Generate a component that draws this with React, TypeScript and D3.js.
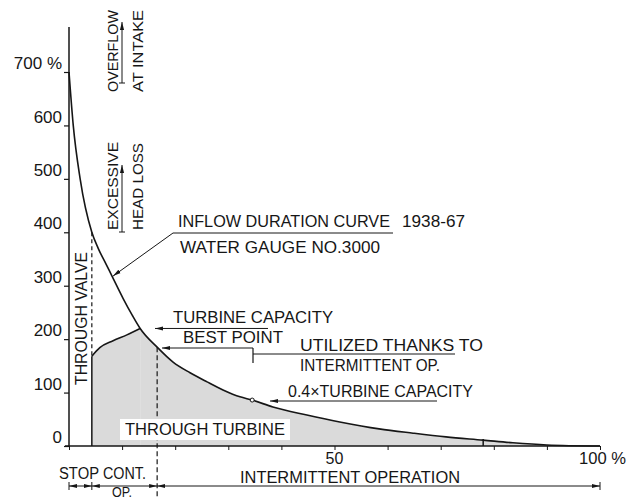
import { useEffect, useRef } from "react";
import * as d3 from "d3";

// inflow duration curve (percent of time exceeded -> percent of mean flow)
const durationPct = [0, 0.8, 2.1, 4.3, 5.5, 7, 8.1, 10.2, 11.9, 13.4, 16.6, 19.6, 22.8, 26, 29, 32.2, 34.5, 38.4, 44.8, 51, 58.4, 64.8, 71, 78, 83.6, 90, 100];
const inflowPct = [700, 600, 500, 400, 370, 340, 318, 276, 245, 220, 185, 157, 137, 120, 105, 92, 86, 73, 58, 45, 32, 24, 17, 11, 6, 2, 0];

// turbine capacity curve (continuous operation range)
const turbineDur = [4.3, 5.8, 8.3, 10.9, 13.4];
const turbineCap = [168, 184, 197, 208, 220];

const yTicks = [0, 100, 200, 300, 400, 500, 600, 700];
const xTicks = [0, 10, 20, 30, 40, 50, 60, 70, 80, 90, 100];

const valveLimit = 4.3; // stop / continuous op. boundary
const bestPoint = 16.6; // continuous / intermittent boundary
const lowPoint = 34.5; // 0.4 x turbine capacity
const markPoint = 78;

const INK = "#161616";
const FONT = "'Liberation Sans', Arial, sans-serif";

export default function App() {
  const ref = useRef<SVGSVGElement>(null);

  useEffect(() => {
    const svg = d3.select(ref.current);
    svg.selectAll("*").remove();

    const x = d3.scaleLinear().domain([0, 100]).range([69, 600]);
    const y = d3.scaleLinear().domain([0, 700]).range([446, 72]);

    const flow: [number, number][] = durationPct.map((d, i) => [d, inflowPct[i]]);
    const turb: [number, number][] = turbineDur.map((d, i) => [d, turbineCap[i]]);

    const defs = svg.append("defs");
    defs
      .append("marker")
      .attr("id", "arr")
      .attr("viewBox", "0 -4 10 8")
      .attr("refX", 10)
      .attr("refY", 0)
      .attr("markerWidth", 8)
      .attr("markerHeight", 8)
      .attr("markerUnits", "userSpaceOnUse")
      .attr("orient", "auto-start-reverse")
      .append("path")
      .attr("d", "M0,-2.6L10,0L0,2.6Z")
      .attr("fill", INK);
    defs
      .append("clipPath")
      .attr("id", "flowclip")
      .append("rect")
      .attr("x", x(turbineDur[turbineDur.length - 1]))
      .attr("y", 0)
      .attr("width", x(100) - x(turbineDur[turbineDur.length - 1]))
      .attr("height", y(0));

    // shaded area: water used by the turbine
    const area = d3
      .area<[number, number]>()
      .x((d) => x(d[0]))
      .y0(y(0))
      .y1((d) => y(d[1]))
      .curve(d3.curveMonotoneX);
    svg.append("path").datum(flow).attr("d", area).attr("fill", "#dadada").attr("clip-path", "url(#flowclip)");
    svg.append("path").datum(turb).attr("d", area).attr("fill", "#dadada");

    const line = d3
      .line<[number, number]>()
      .x((d) => x(d[0]))
      .y((d) => y(d[1]))
      .curve(d3.curveMonotoneX);

    // axes
    const ya = svg
      .append("g")
      .attr("transform", `translate(${x(0)},0)`)
      .call(
        d3
          .axisLeft(y)
          .tickValues(yTicks)
          .tickSize(5)
          .tickFormat((d) => (d === 700 ? "700 %" : String(d)))
      );
    ya.select(".domain").remove();
    ya.selectAll("line").attr("stroke", INK).attr("stroke-width", 1.2);
    ya.selectAll("text")
      .attr("x", -7)
      .attr("dy", "-0.2em")
      .attr("fill", INK)
      .style("font-family", FONT)
      .style("font-size", "17px");

    const xa = svg
      .append("g")
      .attr("transform", `translate(0,${y(0)})`)
      .call(d3.axisBottom(x).tickValues(xTicks).tickSize(4).tickFormat(() => ""));
    xa.select(".domain").remove();
    xa.selectAll("line").attr("stroke", INK).attr("stroke-width", 1);

    const seg = (
      x1: number,
      y1: number,
      x2: number,
      y2: number,
      o: { start?: boolean; end?: boolean; dash?: string; w?: number } = {}
    ) => {
      const l = svg
        .append("line")
        .attr("x1", x1)
        .attr("y1", y1)
        .attr("x2", x2)
        .attr("y2", y2)
        .attr("stroke", INK)
        .attr("stroke-width", o.w ?? 1.2);
      if (o.start) l.attr("marker-start", "url(#arr)");
      if (o.end) l.attr("marker-end", "url(#arr)");
      if (o.dash) l.attr("stroke-dasharray", o.dash);
      return l;
    };

    seg(x(0), y(0), x(0), 27, { w: 1.5 });
    seg(x(0) - 4, y(0), x(100), y(0), { w: 1.5 });

    // curves
    svg.append("path").datum(flow).attr("d", line).attr("fill", "none").attr("stroke", INK).attr("stroke-width", 1.6);
    svg.append("path").datum(turb).attr("d", line).attr("fill", "none").attr("stroke", INK).attr("stroke-width", 1.6);
    seg(x(valveLimit), y(0), x(valveLimit), y(turbineCap[0]), { w: 1.5 });

    // dashed limits
    seg(x(valveLimit), y(400), x(valveLimit), y(turbineCap[0]), { dash: "4,3" });
    seg(x(bestPoint), y(185), x(bestPoint), 499, { dash: "5,3" });

    svg
      .append("circle")
      .attr("cx", x(lowPoint))
      .attr("cy", y(86))
      .attr("r", 2)
      .attr("fill", "#fff")
      .attr("stroke", INK)
      .attr("stroke-width", 1);
    seg(x(markPoint), y(0), x(markPoint), y(0) - 7, { w: 1.5 });

    // text helper
    const txt = (
      s: string,
      px: number,
      py: number,
      o: { len?: number; rot?: boolean; anchor?: string; size?: number } = {}
    ) => {
      const t = svg
        .append("text")
        .attr("x", px)
        .attr("y", py)
        .attr("fill", INK)
        .style("font-family", FONT)
        .style("font-size", `${o.size ?? 17}px`)
        .text(s);
      if (o.len) t.attr("textLength", o.len).attr("lengthAdjust", "spacingAndGlyphs");
      if (o.rot) t.attr("transform", `rotate(-90 ${px} ${py})`);
      if (o.anchor) t.attr("text-anchor", o.anchor);
      return t;
    };

    // top vertical notes
    txt("OVERFLOW", 118, 92, { rot: true, len: 82, size: 15 });
    txt("AT INTAKE", 143, 92, { rot: true, len: 82, size: 15 });
    seg(122, 83, 122, 22, { end: true, w: 1 });
    seg(119, 83, 125, 83, { w: 1 });
    txt("EXCESSIVE", 118, 230, { rot: true, len: 88, size: 15 });
    txt("HEAD LOSS", 143, 230, { rot: true, len: 87, size: 15 });
    seg(122, 232, 122, 165, { end: true, w: 1 });
    seg(119, 232, 125, 232, { w: 1 });
    txt("THROUGH VALVE", 87, 385, { rot: true, len: 133, size: 17 });

    // inflow curve label
    txt("INFLOW DURATION CURVE", 178, 227, { len: 212 });
    txt("1938-67", 402, 227, { len: 63 });
    seg(173, 233, 393, 233, { w: 1 });
    seg(173, 233, x(8.1) + 1, y(318), { end: true, w: 1 });
    txt("WATER GAUGE  NO.3000", 180, 253, { len: 200 });

    // turbine labels
    txt("TURBINE CAPACITY", 173, 323, { len: 160 });
    seg(268, y(220), 155, y(220), { end: true, w: 1 });
    txt("BEST POINT", 183, 343, { len: 100 });
    seg(253, 348, 162, 348, { end: true, w: 1 });
    seg(253, 348, 253, 363, { w: 1.2 });
    seg(253, 354, 455, 354, { w: 1 });
    txt("UTILIZED THANKS TO", 300, 351, { len: 183 });
    txt("INTERMITTENT OP.", 300, 371, { len: 140 });
    txt("0.4\u00d7TURBINE CAPACITY", 288, 397, { len: 185 });
    seg(437, 401, 270, 401, { end: true, w: 1 });

    svg.append("rect").attr("x", 120).attr("y", 419).attr("width", 170).attr("height", 21).attr("fill", "#fff");
    txt("THROUGH TURBINE", 125, 435, { len: 160 });

    // x labels
    txt("50", x(50), 464, { anchor: "middle", size: 16 });
    txt("100 %", 579, 464, { len: 47 });

    // operation ranges
    const dy = 486;
    seg(x(0), dy, x(valveLimit), dy, { start: true, end: true, w: 1 });
    seg(x(valveLimit), dy, x(bestPoint), dy, { start: true, end: true, w: 1 });
    seg(x(bestPoint), dy, x(100), dy, { start: true, end: true, w: 1 });
    [x(0), x(valveLimit), x(100)].forEach((px) => seg(px, dy - 4, px, dy + 4, { w: 1 }));
    txt("STOP", 59, 479, { len: 40, size: 16 });
    txt("CONT.", 103, 479, { len: 43, size: 16 });
    txt("OP.", 112, 497, { len: 20, size: 14 });
    txt("INTERMITTENT OPERATION", 240, 483, { len: 220, size: 16 });
  }, []);

  return (
    <svg
      ref={ref}
      width={633}
      height={499}
      style={{ position: "absolute", left: 0, top: 0, background: "#fff" }}
    />
  );
}
